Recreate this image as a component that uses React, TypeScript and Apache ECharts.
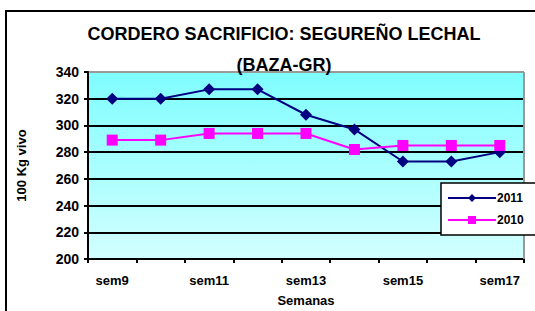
import React, { useEffect, useRef } from "react";
import * as echarts from "echarts";

const categories = ["sem9", "sem10", "sem11", "sem12", "sem13", "sem14", "sem15", "sem16", "sem17"];
const values2011 = [320, 320, 327, 327, 308, 297, 273, 273, 280];
const values2010 = [289, 289, 294, 294, 294, 282, 285, 285, 285];
const yTicks = { min: 200, max: 340, interval: 20 };

const FONT = "'Liberation Sans', Arial, sans-serif";

export default function App() {
  const ref = useRef<HTMLDivElement>(null);
  useEffect(() => {
    if (!ref.current) return;
    const chart = echarts.init(ref.current, undefined, { renderer: "svg" });
    chart.setOption({
      animation: false,
      backgroundColor: "#ffffff",
      title: {
        text: "CORDERO SACRIFICIO: SEGUREÑO LECHAL\n(BAZA-GR)",
        left: 279,
        textAlign: "center",
        top: 13,
        textStyle: {
          fontFamily: FONT,
          fontWeight: "bold",
          fontSize: 18,
          color: "#000",
          lineHeight: 31,
        },
      },
      grid: {
        left: 88,
        top: 72,
        width: 436,
        height: 187,
        show: true,
        borderWidth: 0,
        outerBoundsMode: "none",
        containLabel: false,
        backgroundColor: new echarts.graphic.LinearGradient(0, 0, 0, 1, [
          { offset: 0, color: "#7ffdff" },
          { offset: 1, color: "#d2ffff" },
        ]),
      },
      legend: {
        orient: "vertical",
        left: 441,
        top: 183,
        itemWidth: 48,
        itemHeight: 10,
        itemGap: 10,
        padding: [9, 40, 9, 6],
        backgroundColor: "#fff",
        borderColor: "#000",
        borderWidth: 1.5,
        textStyle: { fontFamily: FONT, fontWeight: "bold", fontSize: 12, color: "#000", padding: [0, 0, 0, -4] },
        data: ["2011", "2010"],
      },
      xAxis: {
        type: "category",
        data: categories,
        boundaryGap: true,
        name: "Semanas",
        nameLocation: "middle",
        nameGap: 35,
        nameTextStyle: { fontFamily: FONT, fontWeight: "bold", fontSize: 13, color: "#000" },
        axisLine: { lineStyle: { color: "#000", width: 2 } },
        axisTick: { show: true, interval: 0, length: 4, lineStyle: { color: "#000", width: 2 } },
        axisLabel: { interval: 1, fontFamily: FONT, fontWeight: "bold", fontSize: 13, color: "#000", margin: 15 },
        splitLine: { show: false },
      },
      yAxis: {
        type: "value",
        min: yTicks.min,
        max: yTicks.max,
        interval: yTicks.interval,
        name: "100 Kg vivo",
        nameLocation: "middle",
        nameGap: 60,
        nameTextStyle: { fontFamily: FONT, fontWeight: "bold", fontSize: 13, color: "#000" },
        axisLine: { show: true, lineStyle: { color: "#000", width: 2 } },
        axisTick: { show: true, length: 4, lineStyle: { color: "#000", width: 2 } },
        axisLabel: { fontFamily: FONT, fontWeight: "bold", fontSize: 14, color: "#000", margin: 9 },
        splitLine: {
          show: true,
          lineStyle: { color: ["#000", "#000", "#000", "#000", "#000", "#000", "#000", "#999"], width: 2 },
        },
      },
      graphic: [
        {
          type: "line",
          shape: { x1: 524, y1: 72, x2: 524, y2: 259 },
          style: { stroke: "#999", lineWidth: 2 },
          z: 1,
        },
        {
          type: "rect",
          shape: { x: 6, y: 11, width: 540, height: 310 },
          style: { fill: "none", stroke: "#000", lineWidth: 2 },
          z: 0,
        },
      ],
      series: [
        {
          name: "2011",
          type: "line",
          data: values2011,
          color: "#000080",
          symbol: "diamond",
          symbolSize: 12,
          lineStyle: { width: 2, color: "#000080" },
          itemStyle: { color: "#000080" },
        },
        {
          name: "2010",
          type: "line",
          data: values2010,
          color: "#ff00ff",
          symbol: "rect",
          symbolSize: 11,
          lineStyle: { width: 2, color: "#ff00ff" },
          itemStyle: { color: "#ff00ff" },
        },
      ],
    });
    return () => chart.dispose();
  }, []);
  return (
    <div
      ref={ref}
      style={{ position: "absolute", left: 0, top: 0, width: 535, height: 311 }}
    />
  );
}
